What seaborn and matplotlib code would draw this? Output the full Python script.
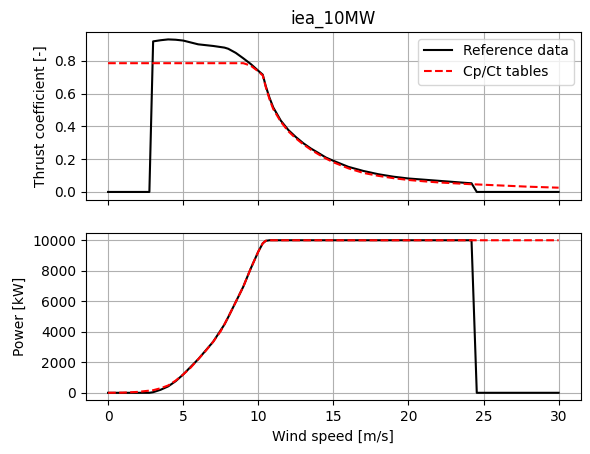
import pandas as pd
import seaborn as sns
import matplotlib.pyplot as plt

# Reference data
ws_ref = [0, 2.75, 3, 3.5, 4, 4.5, 5, 6, 7, 7.75, 8, 8.5, 9, 9.5, 10, 10.3, 10.5, 10.75,
          11, 11.5, 12, 12.5, 13, 13.5, 14, 14.5, 15, 16, 17, 18, 19, 20, 21, 22, 23, 24,
          24.2, 24.55, 25, 30]
ct_ref = [0, 0, 0.918, 0.925, 0.93, 0.928, 0.923, 0.9, 0.89, 0.88, 0.873, 0.848, 0.815,
          0.78, 0.739, 0.715, 0.645, 0.574, 0.515, 0.435, 0.378, 0.335, 0.297, 0.265,
          0.238, 0.21, 0.19, 0.153, 0.128, 0.108, 0.093, 0.082, 0.075, 0.068, 0.061, 0.054,
          0.053, 0, 0, 0]
power_ref = [0, 0, 40, 200, 420, 760, 1200, 2200, 3350, 4480, 4960, 5950, 6950, 8150, 9250,
             9800, 9960, 10000, 10000, 10000, 10000, 10000, 10000, 10000, 10000, 10000,
             10000, 10000, 10000, 10000, 10000, 10000, 10000, 10000, 10000, 10000, 10000,
             0, 0, 0]

# Cp/Ct tables
ws_tab = [0, 1, 2, 3, 3.5, 4, 4.5, 5, 5.5, 6, 6.5, 7, 7.5, 8, 8.5, 9, 9.5, 10, 10.3, 10.5,
          10.75, 11, 11.5, 12, 12.5, 13, 13.5, 14, 14.5, 15, 16, 17, 18, 19, 20, 21, 22,
          23, 24, 25, 26, 27, 28, 29, 30]
ct_tab = [0.785, 0.785, 0.785, 0.785, 0.785, 0.785, 0.785, 0.785, 0.785, 0.785, 0.785,
          0.785, 0.785, 0.785, 0.785, 0.785, 0.77, 0.735, 0.71, 0.64, 0.565, 0.505, 0.428,
          0.37, 0.327, 0.29, 0.258, 0.23, 0.204, 0.181, 0.144, 0.116, 0.098, 0.084, 0.073,
          0.065, 0.058, 0.053, 0.048, 0.044, 0.04, 0.036, 0.032, 0.029, 0.026]
power_tab = [0, 10, 60, 170, 300, 480, 800, 1200, 1650, 2200, 2750, 3350, 4040, 4960, 5950,
             6950, 8150, 9250, 9800, 9970, 10000, 10000, 10000, 10000, 10000, 10000, 10000,
             10000, 10000, 10000, 10000, 10000, 10000, 10000, 10000, 10000, 10000, 10000,
             10000, 10000, 10000, 10000, 10000, 10000, 10000]

ref = pd.DataFrame({"ws": ws_ref, "ct": ct_ref, "power": power_ref})
tab = pd.DataFrame({"ws": ws_tab, "ct": ct_tab, "power": power_tab})

fig, (ax1, ax2) = plt.subplots(2, 1, sharex=True, figsize=(5.9, 4.54), dpi=100)
fig.subplots_adjust(left=0.145, right=0.985, top=0.930, bottom=0.118, hspace=0.197)

sns.lineplot(data=ref, x="ws", y="ct", ax=ax1, color="black", label="Reference data",
             estimator=None, sort=False)
sns.lineplot(data=tab, x="ws", y="ct", ax=ax1, color="red", linestyle="--",
             label="Cp/Ct tables", estimator=None, sort=False)
ax1.set_title("iea_10MW")
ax1.set_ylabel("Thrust coefficient [-]")
ax1.set_xlabel("")
ax1.grid(True)
ax1.legend(loc="upper right")

sns.lineplot(data=ref, x="ws", y="power", ax=ax2, color="black", estimator=None, sort=False)
sns.lineplot(data=tab, x="ws", y="power", ax=ax2, color="red", linestyle="--",
             estimator=None, sort=False)
ax2.set_ylabel("Power [kW]")
ax2.set_xlabel("Wind speed [m/s]")
ax2.grid(True)

plt.savefig("out.png", dpi=100)
plt.close()
